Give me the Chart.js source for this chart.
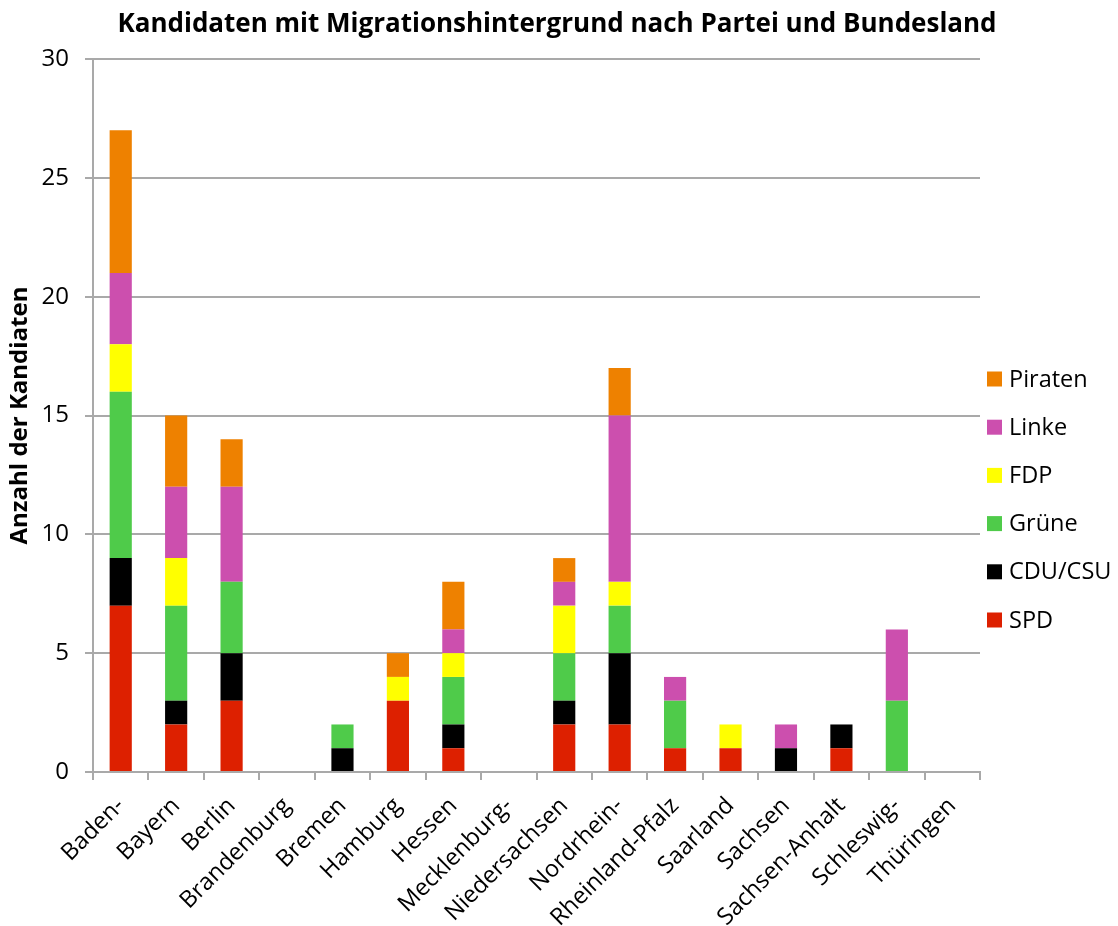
<!DOCTYPE html>
<html>
<head>
<meta charset="utf-8">
<script src="https://cdn.jsdelivr.net/npm/chart.js@4.4.1/dist/chart.umd.min.js"></script>
<style>
html,body{margin:0;padding:0;background:#fff;}
#wrap{width:1118px;height:926px;position:relative;}
</style>
</head>
<body>
<div id="wrap"><canvas id="c" width="1118" height="926"></canvas></div>
<script>
const categories = ["Baden-","Bayern","Berlin","Brandenburg","Bremen","Hamburg","Hessen","Mecklenburg-","Niedersachsen","Nordrhein-","Rheinland-Pfalz","Saarland","Sachsen","Sachsen-Anhalt","Schleswig-","Thüringen"];
const spd     = [7,2,3,0,0,3,1,0,2,2,1,1,0,1,0,0];
const cdu     = [2,1,2,0,1,0,1,0,1,3,0,0,1,1,0,0];
const gruene  = [7,4,3,0,1,0,2,0,2,2,2,0,0,0,3,0];
const fdp     = [2,2,0,0,0,1,1,0,2,1,0,1,0,0,0,0];
const linke   = [3,3,4,0,0,0,1,0,1,7,1,0,1,0,3,0];
const piraten = [6,3,2,0,0,1,2,0,1,2,0,0,0,0,0,0];
const yTicks  = [0,5,10,15,20,25,30];
const chartTitle = 'Kandidaten mit Migrationshintergrund nach Partei und Bundesland';

const FONT = "'Open Sans', 'Noto Sans', sans-serif";
const grid = '#a9a9a9';

const decorPlugin = {
  id: 'decor',
  afterDraw(chart) {
    const ctx = chart.ctx;
    ctx.save();
    // title
    ctx.font = "bold 26px " + FONT;
    ctx.fillStyle = '#000';
    ctx.textAlign = 'center';
    ctx.textBaseline = 'middle';
    ctx.fillText(chartTitle, 557, 25);
    // legend
    const ds = chart.data.datasets.slice().reverse();
    ctx.font = "23.5px " + FONT;
    ctx.textAlign = 'left';
    ds.forEach((d, i) => {
      const cy = 379 + i * 48.2;
      ctx.fillStyle = d.backgroundColor;
      ctx.fillRect(987, cy - 7.5, 15, 15);
      ctx.fillStyle = '#000';
      ctx.fillText(d.label, 1009, cy + 1);
    });
    ctx.restore();
  }
};

new Chart(document.getElementById('c'), {
  type: 'bar',
  data: {
    labels: categories,
    datasets: [
      {label: 'SPD', data: spd, backgroundColor: '#DD2000'},
      {label: 'CDU/CSU', data: cdu, backgroundColor: '#000000'},
      {label: 'Grüne', data: gruene, backgroundColor: '#4FCB4A'},
      {label: 'FDP', data: fdp, backgroundColor: '#FFFF00'},
      {label: 'Linke', data: linke, backgroundColor: '#CC4FAE'},
      {label: 'Piraten', data: piraten, backgroundColor: '#EE8100'}
    ]
  },
  options: {
    responsive: false,
    animation: false,
    devicePixelRatio: 1,
    layout: {padding: {left: 0, right: 138, top: 59, bottom: 0}},
    datasets: {bar: {barPercentage: 0.4, categoryPercentage: 1.0}},
    plugins: {
      legend: {display: false},
      tooltip: {enabled: false},
      title: {display: false}
    },
    scales: {
      x: {
        stacked: true,
        offset: true,
        grid: {display: true, drawOnChartArea: false, drawTicks: true, tickLength: 8, color: grid, lineWidth: 2, offset: true},
        border: {display: true, color: grid, width: 2},
        ticks: {font: {family: FONT, size: 23.5}, color: '#000', minRotation: 45, maxRotation: 45, autoSkip: false, padding: 12},
        afterFit(s) { s.height = 154; }
      },
      y: {
        stacked: true,
        min: 0, max: 30,
        afterBuildTicks(s) { s.ticks = yTicks.map(v => ({value: v})); },
        grid: {color: grid, lineWidth: 2, tickLength: 8},
        border: {display: true, color: grid, width: 2},
        ticks: {font: {family: FONT, size: 24}, color: '#000', padding: 16},
        title: {display: true, text: 'Anzahl der Kandiaten', font: {family: FONT, size: 24, weight: 'bold'}, color: '#000', padding: {top: 6, bottom: 0}},
        afterFit(s) { s.width = 93; }
      }
    }
  },
  plugins: [decorPlugin]
});
</script>
</body>
</html>
